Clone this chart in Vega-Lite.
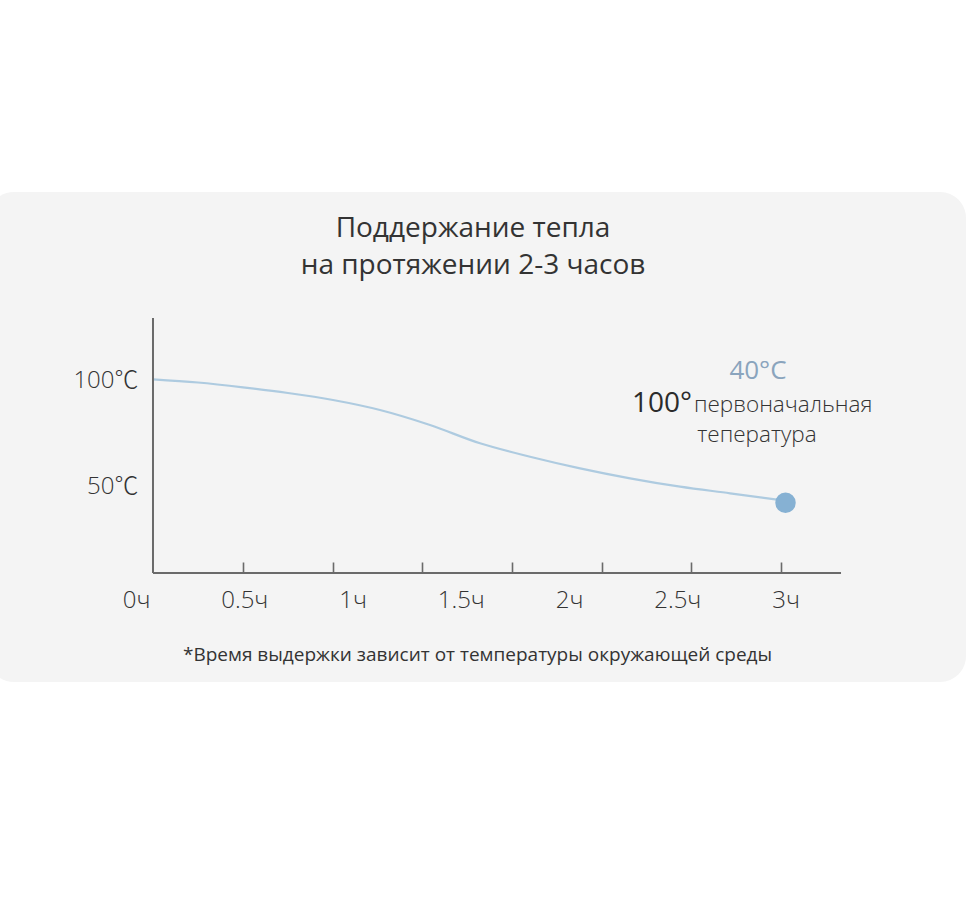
{
  "$schema": "https://vega.github.io/schema/vega-lite/v6.json",
  "autosize": "none",
  "width": 978,
  "height": 490,
  "padding": {"left": -12, "top": 192, "right": 14, "bottom": 218},
  "background": "#ffffff",
  "config": {
    "view": {"fill": "#f4f4f4", "stroke": null, "cornerRadius": 26},
    "font": "Open Sans"
  },
  "title": {
    "text": ["Поддержание тепла", "на протяжении 2-3 часов"],
    "font": "Open Sans",
    "fontSize": 28,
    "fontWeight": 400,
    "color": "#333333",
    "anchor": "middle",
    "lineHeight": 37,
    "offset": -88,
    "dx": -4
  },
  "datasets": {
    "curve": [
      {"hours": 0.0785, "temp": 100.33},
      {"hours": 0.286, "temp": 98.82},
      {"hours": 0.494, "temp": 96.56},
      {"hours": 0.702, "temp": 93.87},
      {"hours": 0.91, "temp": 90.57},
      {"hours": 1.127, "temp": 85.85},
      {"hours": 1.358, "temp": 78.77},
      {"hours": 1.589, "temp": 70.14},
      {"hours": 1.82, "temp": 63.82},
      {"hours": 2.051, "temp": 58.35},
      {"hours": 2.282, "temp": 53.63},
      {"hours": 2.513, "temp": 49.67},
      {"hours": 2.744, "temp": 46.56},
      {"hours": 2.96, "temp": 43.6}
    ],
    "endpoint": [
      {"hours": 3.0, "temp": 42.12}
    ],
    "anchor": [{}]
  },
  "resolve": {"axis": {"x": "independent"}},
  "layer": [
    {
      "data": {"name": "curve"},
      "mark": {"type": "line", "interpolate": "monotone", "color": "#aecbe0", "strokeWidth": 2.2},
      "encoding": {
        "x": {
          "field": "hours", "type": "quantitative",
          "scale": {"domain": [-0.6836, 3.8337], "nice": false, "zero": false},
          "axis": {
            "orient": "bottom",
            "offset": -109,
            "values": [0, 0.5, 1, 1.5, 2, 2.5, 3],
            "labelExpr": "datum.value + 'ч'",
            "domain": false,
            "ticks": false,
            "tickSize": 0,
            "grid": false,
            "labelFont": "Open Sans",
            "labelFontSize": 24,
            "labelFontWeight": 300,
            "labelColor": "#333333",
            "labelPadding": 15,
            "labelBaseline": "top",
            "title": "*Время выдержки зависит от температуры окружающей среды",
            "titleFont": "Open Sans",
            "titleFontSize": 19,
            "titleFontWeight": 400,
            "titleColor": "#333333",
            "titlePadding": 33
          }
        },
        "y": {
          "field": "temp", "type": "quantitative",
          "scale": {"domain": [-42.45, 188.68], "nice": false, "zero": false},
          "axis": {
            "orient": "left",
            "offset": -165,
            "values": [50, 100],
            "labelExpr": "datum.value + '℃'",
            "domain": false,
            "ticks": false,
            "tickSize": 0,
            "grid": false,
            "labelFont": "Open Sans, Noto Sans CJK SC",
            "labelFontSize": 24,
            "labelFontWeight": 300,
            "labelColor": "#333333",
            "labelPadding": 15,
            "title": null
          }
        }
      }
    },
    {
      "data": {"name": "endpoint"},
      "mark": {"type": "point", "filled": true, "opacity": 1, "color": "#86b1d3", "size": 420},
      "encoding": {
        "x": {"field": "hours", "type": "quantitative", "axis": null},
        "y": {"field": "temp", "type": "quantitative"}
      }
    },
    {
      "data": {"name": "anchor"},
      "mark": {"type": "rule", "color": "#6a6a6a", "strokeWidth": 2},
      "encoding": {
        "x": {"datum": 0.0785, "type": "quantitative", "axis": {
          "orient": "top",
          "offset": -381,
          "values": [0.4956, 0.9085, 1.3224, 1.7353, 2.151, 2.5635, 2.9792],
          "domain": false,
          "labels": false,
          "grid": false,
          "ticks": true,
          "tickSize": 11,
          "tickWidth": 1.6,
          "tickColor": "#6a6a6a",
          "title": null
        }},
        "x2": {"datum": 3.2564},
        "y": {"datum": 8.96, "type": "quantitative"}
      }
    },
    {
      "data": {"name": "anchor"},
      "mark": {"type": "rule", "color": "#6a6a6a", "strokeWidth": 2},
      "encoding": {
        "x": {"datum": 0.0785, "type": "quantitative", "axis": null},
        "y": {"datum": 8.96, "type": "quantitative"},
        "y2": {"datum": 129.25}
      }
    },
    {
      "data": {"name": "anchor"},
      "mark": {"type": "text", "text": "40°C", "align": "center", "baseline": "alphabetic", "font": "Open Sans", "fontSize": 26, "fontWeight": 400, "color": "#8aa4bd"},
      "encoding": {
        "x": {"datum": 2.873, "type": "quantitative", "axis": null},
        "y": {"datum": 100.47, "type": "quantitative"}
      }
    },
    {
      "data": {"name": "anchor"},
      "mark": {"type": "text", "text": "100°", "align": "right", "baseline": "alphabetic", "font": "Open Sans", "fontSize": 28, "fontWeight": 400, "color": "#2b2b2b"},
      "encoding": {
        "x": {"datum": 2.568, "type": "quantitative", "axis": null},
        "y": {"datum": 84.9, "type": "quantitative"}
      }
    },
    {
      "data": {"name": "anchor"},
      "mark": {"type": "text", "text": "первоначальная", "align": "left", "baseline": "alphabetic", "font": "Open Sans", "fontSize": 22.5, "fontWeight": 300, "color": "#333333"},
      "encoding": {
        "x": {"datum": 2.577, "type": "quantitative", "axis": null},
        "y": {"datum": 84.9, "type": "quantitative"}
      }
    },
    {
      "data": {"name": "anchor"},
      "mark": {"type": "text", "text": "тепература", "align": "center", "baseline": "alphabetic", "font": "Open Sans", "fontSize": 22.5, "fontWeight": 300, "color": "#333333"},
      "encoding": {
        "x": {"datum": 2.868, "type": "quantitative", "axis": null},
        "y": {"datum": 70.75, "type": "quantitative"}
      }
    }
  ]
}
